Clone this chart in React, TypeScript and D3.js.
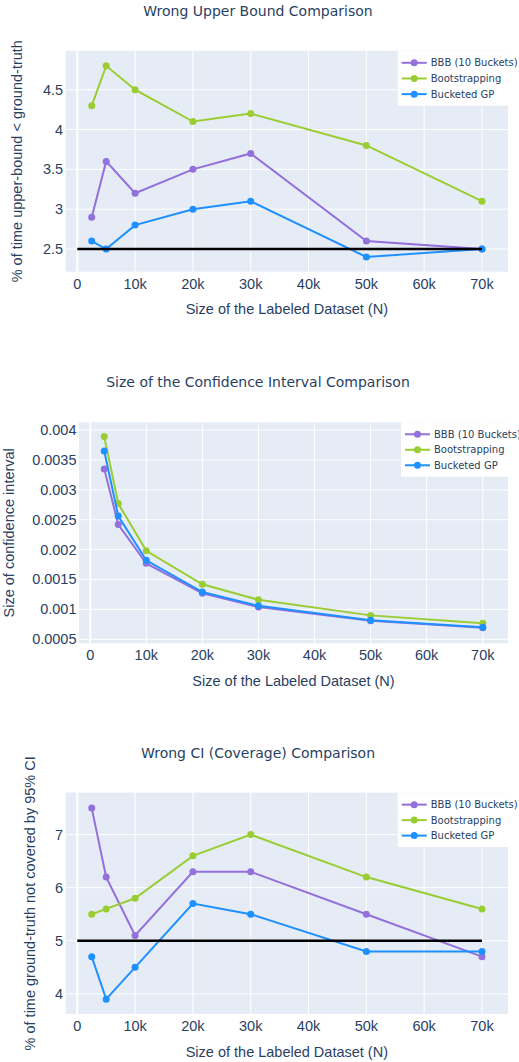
import React from "react";
import * as d3 from "d3";

const sizes = [2500, 5000, 10000, 20000, 30000, 50000, 70000];
const seriesNames = ["BBB (10 Buckets)", "Bootstrapping", "Bucketed GP"];
const seriesColors = ["#9370DB", "#9ACD32", "#1E90FF"];

const upperBBB = [2.9, 3.6, 3.2, 3.5, 3.7, 2.6, 2.5];
const upperBoot = [4.3, 4.8, 4.5, 4.1, 4.2, 3.8, 3.1];
const upperGP = [2.6, 2.5, 2.8, 3.0, 3.1, 2.4, 2.5];

const ciBBB = [0.00335, 0.00242, 0.00177, 0.00127, 0.00104, 0.00081, 0.000695];
const ciBoot = [0.00389, 0.00277, 0.00198, 0.00142, 0.00116, 0.0009, 0.000767];
const ciGP = [0.00365, 0.00256, 0.00182, 0.00129, 0.00106, 0.00082, 0.0007];

const covBBB = [7.5, 6.2, 5.1, 6.3, 6.3, 5.5, 4.7];
const covBoot = [5.5, 5.6, 5.8, 6.6, 7.0, 6.2, 5.6];
const covGP = [4.7, 3.9, 4.5, 5.7, 5.5, 4.8, 4.8];

const xTicks = [0, 10000, 20000, 30000, 40000, 50000, 60000, 70000];
const upperTicks = [2.5, 3, 3.5, 4, 4.5];
const ciTicks = [0.0005, 0.001, 0.0015, 0.002, 0.0025, 0.003, 0.0035, 0.004];
const covTicks = [4, 5, 6, 7];

const upperRef = 2.5;
const covRef = 5;

const titles = [
  "Wrong Upper Bound Comparison",
  "Size of the Confidence Interval Comparison",
  "Wrong CI (Coverage) Comparison",
];
const yTitles = [
  "% of time upper-bound < ground-truth",
  "Size of confidence interval",
  "% of time ground-truth not covered by 95% CI",
];
const xTitle = "Size of the Labeled Dataset (N)";

const TEXT = "#2a3f5f";
const FONT_A = "'Liberation Sans', Arial, Helvetica, sans-serif";
const FONT_V = "'DejaVu Sans', Verdana, sans-serif";

type PanelCfg = {
  left: number; right: number; top: number; bottom: number;
  yDomain: [number, number];
  yTicks: number[];
  series: number[][];
  ref: number | null;
  title: string; titleY: number;
  yTitle: string; yTitleX: number;
  legendX: number; legendBottom: number;
  fmtY: (v: number) => string;
};

const fmtX = (v: number) => (v === 0 ? "0" : `${v / 1000}k`);

function Panel({ c }: { c: PanelCfg }) {
  const x = d3.scaleLinear().domain([-2000, 74500]).range([c.left, c.right]);
  const y = d3.scaleLinear().domain(c.yDomain).range([c.bottom, c.top]);
  const line = d3
    .line<number>()
    .x((_, i) => x(sizes[i]))
    .y((d) => y(d));
  const midY = (c.top + c.bottom) / 2;
  const midX = (c.left + c.right) / 2;
  const clipId = `clip-${Math.round(c.top)}`;
  const legH = c.legendBottom - c.top;
  return (
    <g>
      <defs>
        <clipPath id={clipId}>
          <rect x={c.left} y={c.top} width={c.right - c.left} height={c.bottom - c.top} />
        </clipPath>
      </defs>
      <text x={258} y={c.titleY} textAnchor="middle" dominantBaseline="central" fontSize={14} fill={TEXT} fontFamily={FONT_V}>
        {c.title}
      </text>
      <rect x={c.left} y={c.top} width={c.right - c.left} height={c.bottom - c.top} fill="#E5ECF6" />
      {xTicks.map((t) => (
        <line key={"gx" + t} x1={x(t)} x2={x(t)} y1={c.top} y2={c.bottom} stroke="#fff" strokeWidth={t === 0 ? 2 : 1} />
      ))}
      {c.yTicks.map((t) => (
        <line key={"gy" + t} x1={c.left} x2={c.right} y1={y(t)} y2={y(t)} stroke="#fff" strokeWidth={1} />
      ))}
      <g clipPath={`url(#${clipId})`}>
        {c.series.map((s, si) => (
          <g key={si}>
            <path d={line(s) || ""} fill="none" stroke={seriesColors[si]} strokeWidth={2} />
            {s.map((v, i) => (
              <circle key={i} cx={x(sizes[i])} cy={y(v)} r={3.5} fill={seriesColors[si]} />
            ))}
          </g>
        ))}
        {c.ref !== null && (
          <line x1={x(0)} x2={x(70000)} y1={y(c.ref)} y2={y(c.ref)} stroke="#000" strokeWidth={2.5} />
        )}
      </g>
      {xTicks.map((t) => (
        <text key={"tx" + t} x={x(t)} y={c.bottom + 12} textAnchor="middle" dominantBaseline="central" fontSize={14.5} fill={TEXT} fontFamily={FONT_A}>
          {fmtX(t)}
        </text>
      ))}
      {c.yTicks.map((t) => (
        <text key={"ty" + t} x={c.left - 2.5} y={y(t)} textAnchor="end" dominantBaseline="central" fontSize={14.5} fill={TEXT} fontFamily={FONT_A}>
          {c.fmtY(t)}
        </text>
      ))}
      <text x={midX} y={c.bottom + 37.5} textAnchor="middle" dominantBaseline="central" fontSize={14.5} fill={TEXT} fontFamily={FONT_A}>
        {xTitle}
      </text>
      <text
        transform={`translate(${c.yTitleX},${midY}) rotate(-90)`}
        textAnchor="middle"
        dominantBaseline="central"
        fontSize={14.5}
        fill={TEXT}
        fontFamily={FONT_A}
      >
        {c.yTitle}
      </text>
      <rect x={c.legendX} y={c.top} width={519 - c.legendX} height={legH} fill="#fff" />
      {seriesNames.map((n, i) => {
        const ly = c.top + legH * (0.22 + i * 0.285);
        return (
          <g key={n}>
            <line x1={c.legendX + 4} x2={c.legendX + 29} y1={ly} y2={ly} stroke={seriesColors[i]} strokeWidth={2} />
            <circle cx={c.legendX + 16.5} cy={ly} r={3.5} fill={seriesColors[i]} />
            <text x={c.legendX + 33} y={ly} dominantBaseline="central" fontSize={10} fill={TEXT} fontFamily={FONT_V}>
              {n}
            </text>
          </g>
        );
      })}
    </g>
  );
}

export default function App() {
  const panels: PanelCfg[] = [
    {
      left: 65.7, right: 508, top: 50.7, bottom: 271.7,
      yDomain: [2.215, 4.99], yTicks: upperTicks,
      series: [upperBBB, upperBoot, upperGP], ref: upperRef,
      title: titles[0], titleY: 11, yTitle: yTitles[0], yTitleX: 17,
      legendX: 397.7, legendBottom: 105.7,
      fmtY: (v) => String(v),
    },
    {
      left: 79, right: 508, top: 422.3, bottom: 643.3,
      yDomain: [0.000433, 0.004129], yTicks: ciTicks,
      series: [ciBBB, ciBoot, ciGP], ref: null,
      title: titles[1], titleY: 381.7, yTitle: yTitles[1], yTitleX: 8.5,
      legendX: 401, legendBottom: 476.7,
      fmtY: (v) => String(+v.toFixed(4)),
    },
    {
      left: 65.7, right: 508, top: 792.7, bottom: 1014,
      yDomain: [3.62, 7.79], yTicks: covTicks,
      series: [covBBB, covBoot, covGP], ref: covRef,
      title: titles[2], titleY: 752.7, yTitle: yTitles[2], yTitleX: 30,
      legendX: 397.7, legendBottom: 847,
      fmtY: (v) => String(v),
    },
  ];
  return (
    <div style={{ position: "absolute", left: 0, top: 0, width: 519, height: 1062, background: "#fff" }}>
      <svg width={519} height={1062} style={{ display: "block" }}>
        <rect width={519} height={1062} fill="#fff" />
        {panels.map((p, i) => (
          <Panel key={i} c={p} />
        ))}
      </svg>
    </div>
  );
}
